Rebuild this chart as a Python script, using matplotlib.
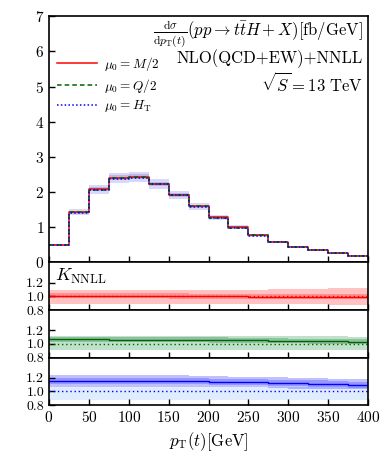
import numpy as np
import matplotlib
matplotlib.use("Agg")
import matplotlib.pyplot as plt
from matplotlib.ticker import FormatStrFormatter

plt.rcParams['font.family'] = 'serif'
plt.rcParams['font.serif'] = ['cmr10']
plt.rcParams['mathtext.fontset'] = 'cm'
plt.rcParams['axes.formatter.use_mathtext'] = True

# bin edges in pT(t) [GeV]
edges = np.arange(0, 425, 25)

# differential cross section [fb/GeV], one value per bin
xs_M2 = [0.50, 1.43, 2.08, 2.41, 2.43, 2.24, 1.93, 1.60, 1.28, 1.00, 0.77, 0.59, 0.45, 0.35, 0.26, 0.19]
xs_Q2 = [0.50, 1.42, 2.07, 2.39, 2.42, 2.23, 1.92, 1.59, 1.27, 0.99, 0.77, 0.58, 0.45, 0.35, 0.26, 0.19]
xs_HT = [0.49, 1.41, 2.06, 2.38, 2.41, 2.22, 1.91, 1.58, 1.27, 0.99, 0.76, 0.58, 0.44, 0.34, 0.26, 0.19]

# scale band on the cross section
band_lo = [0.47, 1.34, 1.95, 2.26, 2.29, 2.10, 1.81, 1.50, 1.20, 0.94, 0.72, 0.55, 0.42, 0.33, 0.24, 0.18]
band_hi = [0.53, 1.51, 2.20, 2.55, 2.57, 2.37, 2.04, 1.69, 1.35, 1.06, 0.82, 0.62, 0.48, 0.37, 0.28, 0.20]
core_lo = [0.485, 1.39, 2.02, 2.34, 2.36, 2.17, 1.87, 1.55, 1.24, 0.97, 0.745, 0.57, 0.435, 0.34, 0.25, 0.185]
core_hi = [0.515, 1.47, 2.14, 2.48, 2.50, 2.30, 1.98, 1.64, 1.31, 1.03, 0.795, 0.605, 0.465, 0.36, 0.27, 0.195]

# K-factors NNLL / NLO
K_M2 = [1.012, 1.012, 1.011, 1.010, 1.009, 1.007, 1.005, 1.003, 1.000, 0.999, 0.998, 0.997, 0.996, 0.995, 0.994, 0.993]
K_Q2 = [1.067, 1.066, 1.066, 1.065, 1.065, 1.064, 1.063, 1.060, 1.058, 1.055, 1.052, 1.050, 1.046, 1.043, 1.040, 1.033]
K_HT = [1.157, 1.155, 1.157, 1.157, 1.157, 1.157, 1.155, 1.152, 1.143, 1.140, 1.138, 1.129, 1.120, 1.117, 1.112, 1.100]

# NLO band (around 1) and NNLL band (around K) for each scale choice
nlo_M2_lo = [0.89, 0.89, 0.89, 0.89, 0.89, 0.89, 0.89, 0.89, 0.89, 0.89, 0.89, 0.89, 0.89, 0.89, 0.88, 0.88]
nlo_M2_hi = [1.10, 1.10, 1.10, 1.10, 1.10, 1.10, 1.10, 1.10, 1.10, 1.10, 1.10, 1.11, 1.11, 1.11, 1.12, 1.12]
nnll_M2_lo = [0.97, 0.97, 0.97, 0.97, 0.97, 0.97, 0.965, 0.965, 0.96, 0.96, 0.96, 0.96, 0.955, 0.955, 0.955, 0.955]
nnll_M2_hi = [1.05, 1.05, 1.05, 1.05, 1.05, 1.045, 1.045, 1.04, 1.04, 1.04, 1.04, 1.04, 1.04, 1.035, 1.035, 1.035]

nlo_Q2_lo = [0.91, 0.91, 0.91, 0.91, 0.91, 0.91, 0.91, 0.91, 0.91, 0.91, 0.91, 0.91, 0.91, 0.91, 0.91, 0.91]
nlo_Q2_hi = [1.12, 1.12, 1.12, 1.12, 1.12, 1.12, 1.12, 1.12, 1.12, 1.12, 1.12, 1.11, 1.11, 1.11, 1.11, 1.10]
nnll_Q2_lo = [1.03, 1.03, 1.03, 1.03, 1.03, 1.03, 1.03, 1.025, 1.02, 1.02, 1.015, 1.015, 1.01, 1.005, 1.0, 0.995]
nnll_Q2_hi = [1.10, 1.10, 1.10, 1.10, 1.10, 1.10, 1.10, 1.095, 1.095, 1.09, 1.09, 1.085, 1.08, 1.08, 1.075, 1.07]

nlo_HT_lo = [0.88, 0.88, 0.88, 0.88, 0.88, 0.88, 0.88, 0.88, 0.88, 0.88, 0.88, 0.88, 0.88, 0.88, 0.88, 0.88]
nlo_HT_hi = [1.07, 1.07, 1.07, 1.07, 1.07, 1.07, 1.07, 1.07, 1.07, 1.07, 1.07, 1.07, 1.06, 1.06, 1.06, 1.06]
nnll_HT_lo = [1.07, 1.07, 1.07, 1.07, 1.07, 1.07, 1.07, 1.07, 1.06, 1.06, 1.06, 1.05, 1.04, 1.04, 1.04, 1.03]
nnll_HT_hi = [1.24, 1.24, 1.24, 1.245, 1.245, 1.245, 1.24, 1.235, 1.225, 1.22, 1.22, 1.21, 1.20, 1.195, 1.19, 1.18]
core_HT_lo = [1.11, 1.11, 1.11, 1.11, 1.11, 1.11, 1.11, 1.105, 1.10, 1.095, 1.09, 1.085, 1.075, 1.07, 1.065, 1.055]
core_HT_hi = [1.205, 1.205, 1.205, 1.205, 1.205, 1.205, 1.20, 1.20, 1.19, 1.185, 1.185, 1.175, 1.165, 1.165, 1.16, 1.145]


def step(vals):
    # repeat last value so 'post' steps cover the final bin
    return np.append(vals, vals[-1])


fig = plt.figure(figsize=(3.92, 4.76), dpi=100)
gs = fig.add_gridspec(4, 1, height_ratios=[246, 47.5, 47.5, 47.5], hspace=0,
                      left=0.125, right=0.939, top=0.966, bottom=0.149)
ax = fig.add_subplot(gs[0])
r1 = fig.add_subplot(gs[1], sharex=ax)
r2 = fig.add_subplot(gs[2], sharex=ax)
r3 = fig.add_subplot(gs[3], sharex=ax)

# main panel
ax.fill_between(edges, step(band_lo), step(band_hi), step='post', color='#5050e0', alpha=0.22, lw=0)
ax.fill_between(edges, step(core_lo), step(core_hi), step='post', color='#7030a0', alpha=0.22, lw=0)
ax.step(edges, step(xs_M2), where='post', color='red', lw=1.1, label=r'$\mu_0=M/2$')
ax.step(edges, step(xs_Q2), where='post', color='#006400', lw=1.1, ls=(0, (3, 2)), label=r'$\mu_0=Q/2$')
ax.step(edges, step(xs_HT), where='post', color='blue', lw=1.1, ls=(0, (1, 1.5)), label=r'$\mu_0=H_\mathrm{T}$')
ax.set_ylim(0, 7)
ax.set_yticks(range(8))
ax.legend(loc='upper left', bbox_to_anchor=(0.0, 0.875), frameon=False, fontsize=9.5,
          handlelength=3.0, labelspacing=0.28, handletextpad=0.6, borderaxespad=0.2)
ax.text(0.984, 0.93, r'$\frac{\mathrm{d}\sigma}{\mathrm{d}p_\mathrm{T}(t)}(pp\rightarrow t\bar{t}H+X)[\mathrm{fb/GeV}]$',
        transform=ax.transAxes, ha='right', va='center', fontsize=12)
ax.text(0.984, 0.829, 'NLO(QCD+EW)+NNLL', transform=ax.transAxes, ha='right', va='center', fontsize=12)
ax.text(0.984, 0.728, r'$\sqrt{S}=13\ \mathrm{TeV}$', transform=ax.transAxes, ha='right', va='center', fontsize=12)

# ratio panels
panels = [
    (r1, K_M2, nlo_M2_lo, nlo_M2_hi, nnll_M2_lo, nnll_M2_hi, None, None, 'red', '#ff4040', '#ff2020'),
    (r2, K_Q2, nlo_Q2_lo, nlo_Q2_hi, nnll_Q2_lo, nnll_Q2_hi, None, None, '#006400', '#3aa05a', '#1e7b3a'),
    (r3, K_HT, nlo_HT_lo, nlo_HT_hi, nnll_HT_lo, nnll_HT_hi, core_HT_lo, core_HT_hi, 'blue', '#9cc8ff', '#3030ff'),
]
for rax, K, nlo_lo, nlo_hi, nn_lo, nn_hi, c_lo, c_hi, lc, nlo_c, nn_c in panels:
    rax.fill_between(edges, step(nlo_lo), step(nlo_hi), step='post', color=nlo_c, alpha=0.32, lw=0)
    rax.fill_between(edges, step(nn_lo), step(nn_hi), step='post', color=nn_c, alpha=0.3, lw=0)
    if c_lo is not None:
        rax.fill_between(edges, step(c_lo), step(c_hi), step='post', color=nn_c, alpha=0.28, lw=0)
    rax.step(edges, step(K), where='post', color=lc, lw=1.0)
    rax.axhline(1.0, color=lc, lw=1.0, ls=(0, (1, 2)))
    rax.set_ylim(0.8, 1.5)
    rax.set_yticks([0.8, 1.0, 1.2])
    rax.yaxis.set_major_formatter(FormatStrFormatter('%.1f'))

r1.text(0.02, 0.7, r'$K_\mathrm{NNLL}$', transform=r1.transAxes, ha='left', va='center', fontsize=13)

for a in (ax, r1, r2, r3):
    a.tick_params(direction='in', length=4, width=1.0, top=False, right=False, labelsize=11 if a is ax else 10)
    for s in a.spines.values():
        s.set_linewidth(1.2)
    if a is not r3:
        plt.setp(a.get_xticklabels(), visible=False)

r3.set_xlim(0, 400)
r3.set_xticks(range(0, 450, 50))
r3.tick_params(axis='x', labelsize=11)
r3.set_xlabel(r'$p_\mathrm{T}(t)[\mathrm{GeV}]$', fontsize=12, labelpad=4)

fig.savefig('out.png', dpi=100)
